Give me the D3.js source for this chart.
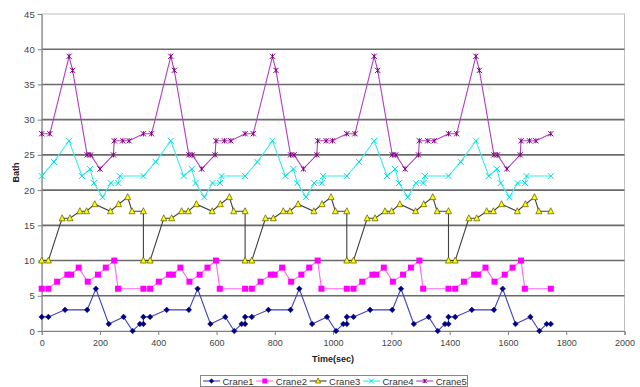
<!DOCTYPE html>
<html><head><meta charset="utf-8">
<script src="https://cdn.jsdelivr.net/npm/d3@7"></script>
<style>body{margin:0;background:#fff}svg text{font-family:"Liberation Sans",Arial,sans-serif}</style>
</head><body><svg id="c" width="640" height="387"></svg>
<script>
const seriesNames = ["Crane1","Crane2","Crane3","Crane4","Crane5"];
const xTicks = [0,200,400,600,800,1000,1200,1400,1600,1800,2000];
const yTicks = [0,5,10,15,20,25,30,35,40,45];

const crane1 = [[0,2],[23,2],[80,3],[156,3],[186,6],[230,1],[281,2],[312,0],[337,1],[349,1],
[349,2],[372,2],[429,3],[505,3],[535,6],[579,1],[630,2],[661,0],[686,1],[698,1],
[698,2],[721,2],[778,3],[854,3],[884,6],[928,1],[979,2],[1010,0],[1035,1],[1047,1],
[1047,2],[1070,2],[1127,3],[1203,3],[1233,6],[1277,1],[1328,2],[1359,0],[1384,1],[1396,1],
[1396,2],[1419,2],[1476,3],[1552,3],[1582,6],[1626,1],[1677,2],[1708,0],[1733,1],[1747,1]];

const crane2 = [[0,6],[23,6],[53,7],[88,8],[101,8],[127,9],[158,7],[193,8],[220,9],[249,10],[262,6],
[349,6],[372,6],[402,7],[437,8],[450,8],[476,9],[507,7],[542,8],[569,9],[598,10],[611,6],
[698,6],[721,6],[751,7],[786,8],[799,8],[825,9],[856,7],[891,8],[918,9],[947,10],[960,6],
[1047,6],[1070,6],[1100,7],[1135,8],[1148,8],[1174,9],[1205,7],[1240,8],[1267,9],[1296,10],[1309,6],
[1396,6],[1419,6],[1449,7],[1484,8],[1497,8],[1523,9],[1554,7],[1589,8],[1616,9],[1645,10],[1658,6],[1747,6]];

const crane3 = [[0,10],[23,10],[70,16],[97,16],[131,17],[154,17],[182,18],[236,17],[264,18],[295,19],[310,17],[349,17],
[349,10],[372,10],[419,16],[446,16],[480,17],[503,17],[531,18],[585,17],[613,18],[644,19],[659,17],[698,17],
[698,10],[721,10],[768,16],[795,16],[829,17],[852,17],[880,18],[934,17],[962,18],[993,19],[1008,17],[1047,17],
[1047,10],[1070,10],[1117,16],[1144,16],[1178,17],[1201,17],[1229,18],[1283,17],[1311,18],[1342,19],[1357,17],[1396,17],
[1396,10],[1419,10],[1466,16],[1493,16],[1527,17],[1550,17],[1578,18],[1632,17],[1660,18],[1691,19],[1706,17],[1747,17]];

const crane4 = [[0,22],[42,24],[94,27],[138,22],[166,23],[179,21],[209,19],[237,21],[263,21],[268,22],
[349,22],[391,24],[443,27],[487,22],[515,23],[528,21],[558,19],[586,21],[612,21],[617,22],
[698,22],[740,24],[792,27],[836,22],[864,23],[877,21],[907,19],[935,21],[961,21],[966,22],
[1047,22],[1089,24],[1141,27],[1185,22],[1213,23],[1226,21],[1256,19],[1284,21],[1310,21],[1315,22],
[1396,22],[1438,24],[1490,27],[1534,22],[1562,23],[1575,21],[1605,19],[1633,21],[1659,21],[1664,22],[1747,22]];

const crane5 = [[0,28],[28,28],[94,39],[106,37],[156,25],[168,25],[200,23],[246,25],[249,27],[278,27],[300,27],
[349,28],[377,28],[443,39],[455,37],[505,25],[517,25],[549,23],[595,25],[598,27],[627,27],[649,27],
[698,28],[726,28],[792,39],[804,37],[854,25],[866,25],[898,23],[944,25],[947,27],[976,27],[998,27],
[1047,28],[1075,28],[1141,39],[1153,37],[1203,25],[1215,25],[1247,23],[1293,25],[1296,27],[1325,27],[1347,27],
[1396,28],[1424,28],[1490,39],[1502,37],[1552,25],[1564,25],[1596,23],[1642,25],[1645,27],[1674,27],[1696,27],[1747,28]];

const allSeries = [crane1, crane2, crane3, crane4, crane5];
const lineColors = ["#4040c0","#ff66ee","#404040","#33eeee","#b040c0"];
const markColors = ["#000080","#ff00ff","#ffff00","#00dddd","#800080"];
const markers = ["diamond","square","triangle","x","star"];

const svg = d3.select("#c");
const L = 41.7, R = 624.5, T = 14, B = 331;
const x = d3.scaleLinear().domain([0,2000]).range([L,R]);
const y = d3.scaleLinear().domain([0,45]).range([B,T]);

svg.append("rect").attr("x",L).attr("y",T).attr("width",R-L).attr("height",B-T)
  .attr("fill","#ffffff").attr("stroke","#c0c0c0").attr("stroke-width",1);

svg.append("g").selectAll("line").data(yTicks.filter(d=>d>0 && d<45)).join("line")
  .attr("x1",L).attr("x2",R).attr("y1",d=>y(d)).attr("y2",d=>y(d))
  .attr("stroke","#6a6a6a").attr("stroke-width",1.6);

const xAxis = d3.axisBottom(x).tickValues(xTicks).tickFormat(d3.format("d")).tickSize(4).tickPadding(5);
const gx = svg.append("g").attr("transform",`translate(0,${B})`).call(xAxis);
gx.select(".domain").attr("stroke","#808080");
gx.selectAll(".tick line").attr("stroke","#808080");
gx.selectAll("text").attr("fill","#444").style("font-size","9px");

const yAxis = d3.axisLeft(y).tickValues(yTicks).tickFormat(d3.format("d")).tickSize(4).tickPadding(3);
const gy = svg.append("g").attr("transform",`translate(${L},0)`).call(yAxis);
gy.select(".domain").attr("stroke","#808080");
gy.selectAll(".tick line").attr("stroke","#808080");
gy.selectAll("text").attr("fill","#444").style("font-size","9.5px");

svg.append("text").attr("x",333).attr("y",362).attr("text-anchor","middle")
  .style("font-size","9px").style("font-weight","bold").attr("fill","#222").text("Time(sec)");
svg.append("text").attr("transform",`translate(19,${(T+B)/2}) rotate(-90)`).attr("text-anchor","middle")
  .style("font-size","9px").style("font-weight","bold").attr("fill","#222").text("Bath");

function drawMarker(g, type, cx, cy, mc, s){
  if(type==="diamond"){
    g.append("path").attr("d",`M${cx},${cy-s}L${cx+s},${cy}L${cx},${cy+s}L${cx-s},${cy}Z`).attr("fill",mc).attr("stroke",mc).attr("stroke-width",0.5);
  } else if(type==="square"){
    g.append("rect").attr("x",cx-s).attr("y",cy-s).attr("width",2*s).attr("height",2*s).attr("fill",mc);
  } else if(type==="triangle"){
    g.append("path").attr("d",`M${cx},${cy-s-0.5}L${cx+s},${cy+s-0.5}L${cx-s},${cy+s-0.5}Z`).attr("fill",mc).attr("stroke","#555500").attr("stroke-width",0.7);
  } else if(type==="x"){
    g.append("path").attr("d",`M${cx-s},${cy-s}L${cx+s},${cy+s}M${cx-s},${cy+s}L${cx+s},${cy-s}`).attr("stroke",mc).attr("stroke-width",1);
  } else if(type==="star"){
    g.append("path").attr("d",`M${cx-s},${cy-s}L${cx+s},${cy+s}M${cx-s},${cy+s}L${cx+s},${cy-s}M${cx},${cy-s}L${cx},${cy+s}`).attr("stroke",mc).attr("stroke-width",1);
  }
}
const mSize = [2.8,3,3,3,2.6];

const line = d3.line().x(d=>x(d[0])).y(d=>y(d[1]));
allSeries.forEach((data,i)=>{
  const g = svg.append("g");
  g.append("path").datum(data).attr("d",line).attr("fill","none")
    .attr("stroke",lineColors[i]).attr("stroke-width",1.1);
  data.forEach(d=>drawMarker(g, markers[i], x(d[0]), y(d[1]), markColors[i], mSize[i]));
});

const lg = svg.append("g");
lg.append("rect").attr("x",200.5).attr("y",375.5).attr("width",267).attr("height",11)
  .attr("fill","#fff").attr("stroke","#888");
seriesNames.forEach((n,i)=>{
  const x0 = 203 + i*53.3, cy = 381;
  lg.append("line").attr("x1",x0).attr("x2",x0+17).attr("y1",cy).attr("y2",cy)
    .attr("stroke",lineColors[i]).attr("stroke-width",1.1);
  drawMarker(lg, markers[i], x0+8.5, cy, markColors[i], mSize[i]-0.5);
  lg.append("text").attr("x",x0+19.5).attr("y",cy+3.5).style("font-size","9.5px").attr("fill","#333").text(n);
});
</script></body></html>
